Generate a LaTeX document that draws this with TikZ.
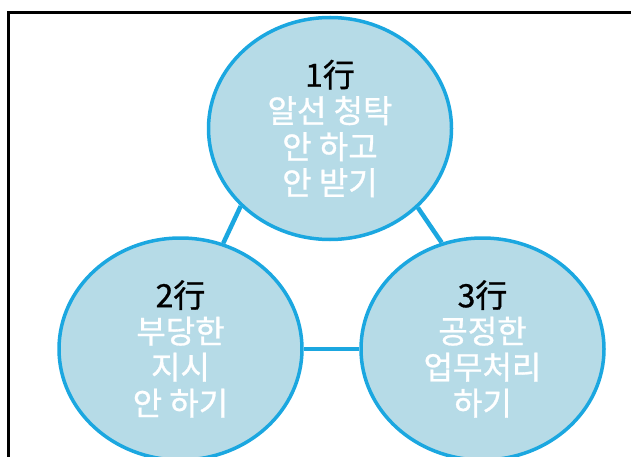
\documentclass[tikz,border=0pt]{standalone}
\usepackage{fontspec}
\setmainfont{Noto Sans CJK KR}[FakeBold=0.9]
\usepackage{xcolor}
\usetikzlibrary{shapes.geometric}

\definecolor{ringblue}{RGB}{27,167,224}
\definecolor{discfill}{RGB}{182,219,231}

\begin{document}
\begin{tikzpicture}[
    x=1pt, y=-1pt,
    duty/.style={ellipse, draw=ringblue, fill=discfill, line width=3.5pt, minimum width=243pt, minimum height=222pt, inner sep=0pt, align=center, font=\fontsize{32}{36}\selectfont},
    link/.style={draw=ringblue, line width=4.5pt}
]
    \useasboundingbox (0,0) rectangle (631,457);

    % outer frame (cut off on the right and at the bottom)
    \draw[line width=2.5pt] (8.5,470) -- (8.5,12.5) -- (645,12.5);

    \node[duty] (first) at (330,128.5) {1行\\\textcolor{white}{알선 청탁}\\\textcolor{white}{안 하고}\\\textcolor{white}{안 받기}};
    \node[duty] (second) at (180.5,349) {2行\\\textcolor{white}{부당한}\\\textcolor{white}{지시}\\\textcolor{white}{안 하기}};
    \node[duty] (third) at (482.5,349) {3行\\\textcolor{white}{공정한}\\\textcolor{white}{업무처리}\\\textcolor{white}{하기}};

    % links
    \draw[link] (first.221.7) -- (second.68.6);
    \draw[link] (first.318.3) -- (third.111.4);
    \draw[link] (second.east) -- (third.west);

\end{tikzpicture}
\end{document}
